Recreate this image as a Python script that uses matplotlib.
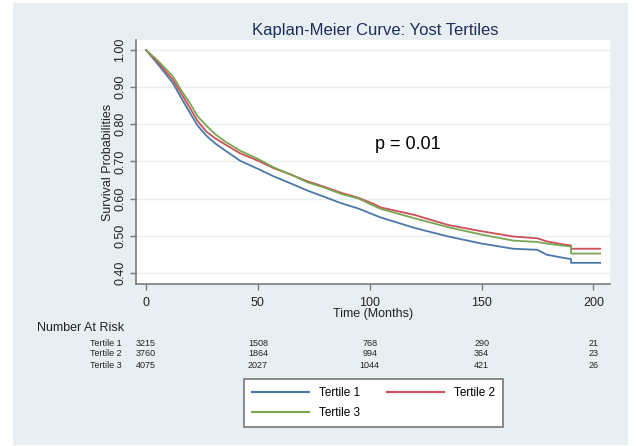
import matplotlib

matplotlib.use("Agg")
import matplotlib.pyplot as plt
import matplotlib.patches as mpatches
import matplotlib.transforms as mtransforms

plt.rcParams["font.family"] = ["Liberation Sans", "DejaVu Sans"]

COLORS = {
    "panel": "#e8eff2",
    "grid": "#e6eef2",
    "axis": "#7a7a7a",
    "text": "#222222",
    "title": "#1f2d5c",
    "t1": "#4b78ab",
    "t2": "#cc4f5a",
    "t3": "#7aa653",
}

# Kaplan-Meier estimates (months, survival)
months = [0, 5, 12, 16, 20, 23, 27, 31, 35, 42, 50, 57, 65, 72, 80, 87, 95,
          102, 105, 120, 135, 150, 164, 175, 179, 187, 190, 190, 203]
surv_t1 = [1.0, 0.964, 0.911, 0.868, 0.827, 0.797, 0.769, 0.748, 0.731, 0.702,
           0.680, 0.660, 0.640, 0.622, 0.604, 0.588, 0.573, 0.556, 0.549, 0.521,
           0.498, 0.479, 0.465, 0.462, 0.449, 0.440, 0.437, 0.427, 0.427]
surv_t2 = [1.0, 0.969, 0.920, 0.880, 0.840, 0.809, 0.780, 0.762, 0.747, 0.722,
           0.702, 0.682, 0.664, 0.647, 0.631, 0.616, 0.602, 0.585, 0.576, 0.556,
           0.529, 0.512, 0.498, 0.493, 0.485, 0.476, 0.474, 0.465, 0.465]
surv_t3 = [1.0, 0.973, 0.929, 0.889, 0.853, 0.822, 0.796, 0.773, 0.755, 0.729,
           0.707, 0.684, 0.664, 0.644, 0.629, 0.613, 0.600, 0.580, 0.572, 0.547,
           0.523, 0.503, 0.487, 0.483, 0.479, 0.473, 0.471, 0.452, 0.452]

series_names = ["Tertile 1", "Tertile 2", "Tertile 3"]
risk_times = [0, 50, 100, 150, 200]
risk_t1 = [3215, 1508, 768, 290, 21]
risk_t2 = [3760, 1864, 994, 364, 23]
risk_t3 = [4075, 2027, 1044, 421, 26]

y_ticks = [0.40, 0.50, 0.60, 0.70, 0.80, 0.90, 1.00]
x_ticks = [0, 50, 100, 150, 200]

W, H = 636, 446
fig = plt.figure(figsize=(W / 100, H / 100), dpi=100, facecolor="white")
fig.patches.append(
    mpatches.Rectangle((13 / W, 1 / H), 615 / W, 442 / H, transform=fig.transFigure,
                       facecolor=COLORS["panel"], edgecolor="none", zorder=-10)
)

ax = fig.add_axes([136 / W, (H - 284) / H, 474 / W, 244 / H])
ax.set_facecolor("white")

l1, = ax.plot(months, surv_t1, color=COLORS["t1"], lw=1.3, label=series_names[0], zorder=3)
l2, = ax.plot(months, surv_t2, color=COLORS["t2"], lw=1.3, label=series_names[1], zorder=3)
l3, = ax.plot(months, surv_t3, color=COLORS["t3"], lw=1.3, label=series_names[2], zorder=3)

ax.set_xlim(-4.5, 207.4)
ax.set_ylim(0.37, 1.027)
ax.set_xticks(x_ticks)
ax.set_yticks(y_ticks, labels=[f"{v:.2f}" for v in y_ticks])
ax.grid(axis="y", color=COLORS["grid"], lw=1.0, zorder=0)
ax.set_axisbelow(True)

for side in ["top", "right"]:
    ax.spines[side].set_visible(False)
for side in ["left", "bottom"]:
    ax.spines[side].set_color(COLORS["axis"])
    ax.spines[side].set_linewidth(1.2)

ax.tick_params(axis="both", colors=COLORS["axis"], labelcolor=COLORS["text"],
               length=4, width=1, labelsize=9, pad=5)
ax.tick_params(axis="y", labelrotation=90, pad=3)
for lab in ax.get_yticklabels():
    lab.set_va("center")

ax.set_xlabel("Time (Months)", fontsize=9, color=COLORS["text"])
ax.xaxis.set_label_coords(0.5, -0.1)
ax.set_ylabel("Survival Probabilities", fontsize=9, color=COLORS["text"])
ax.yaxis.set_label_coords(-0.047, 0.5)

ax.text(117, 0.745, "p = 0.01", fontsize=13, color="black", ha="center", va="center")

fig.text(375 / W, (H - 30) / H, "Kaplan-Meier Curve: Yost Tertiles",
         fontsize=12, color=COLORS["title"], ha="center", va="center")

# number at risk table
fig.text(37 / W, (H - 328) / H, "Number At Risk", fontsize=9,
         color=COLORS["text"], ha="left", va="center")
trans = mtransforms.blended_transform_factory(ax.transData, fig.transFigure)
row_y = [343, 354, 365]
for name, counts, yy in zip(series_names, [risk_t1, risk_t2, risk_t3], row_y):
    fig.text(122 / W, (H - yy) / H, name, fontsize=6.5, color=COLORS["text"],
             ha="right", va="center")
    for t, n in zip(risk_times, counts):
        ax.text(t, (H - yy) / H, str(n), transform=trans, fontsize=6.5,
                color=COLORS["text"], ha="center", va="center", clip_on=False)

leg = fig.legend(
    [l1, l3, l2],
    [series_names[0], series_names[2], series_names[1]],
    ncol=2,
    loc="center",
    bbox_to_anchor=(373.5 / W, (H - 403) / H),
    fontsize=8.5,
    handlelength=4.9,
    handletextpad=0.85,
    columnspacing=2.2,
    labelspacing=0.65,
    borderpad=0.65,
    fancybox=False,
    framealpha=1,
    edgecolor="#777777",
)
leg.get_frame().set_linewidth(1.2)
for h in leg.get_lines():
    h.set_linewidth(1.5)

fig.savefig("out.png", dpi=100, facecolor="white")
plt.close(fig)
